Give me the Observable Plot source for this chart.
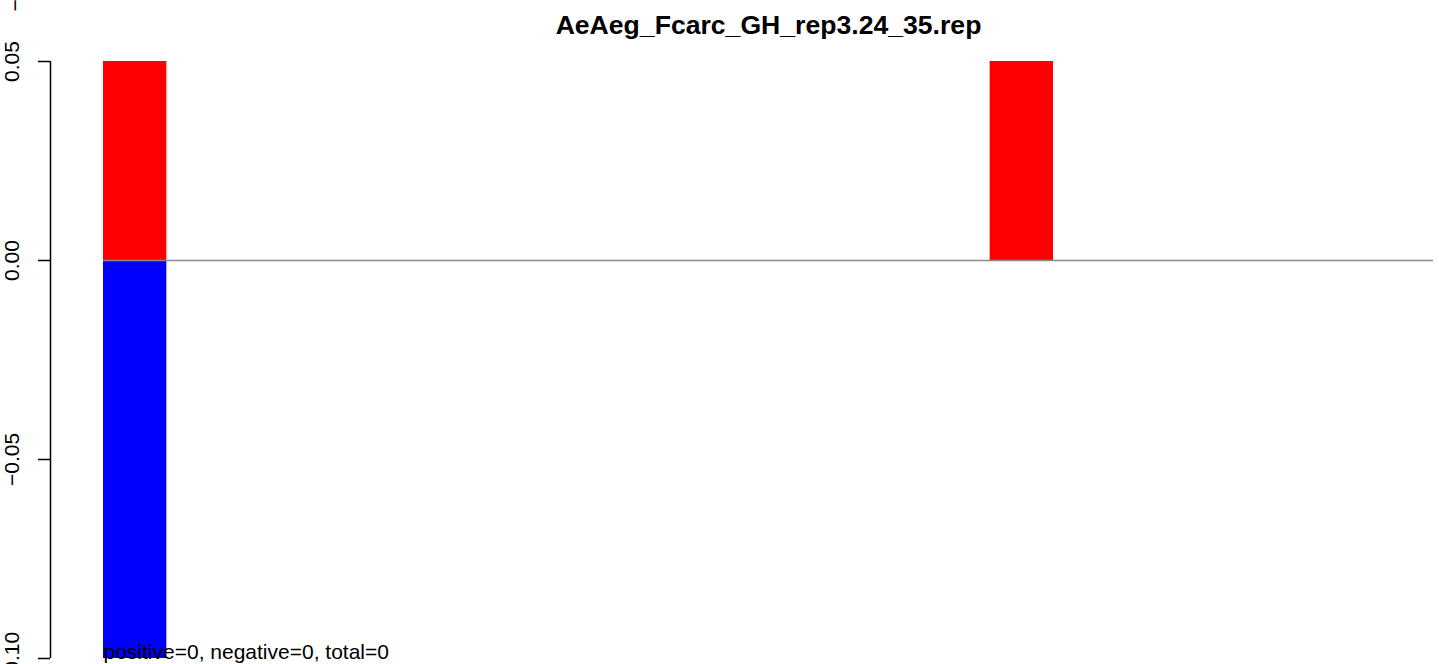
<!DOCTYPE html>
<html>
<head>
<meta charset="utf-8">
<script src="https://cdn.jsdelivr.net/npm/d3@7"></script>
<script src="https://cdn.jsdelivr.net/npm/@observablehq/plot@0.6"></script>
<style>
  html, body { margin: 0; padding: 0; background: #fff; }
  #chart svg { display: block; font-family: "Liberation Sans", Arial, sans-serif; }
</style>
</head>
<body>
<div id="chart"></div>
<script>
const title = "AeAeg_Fcarc_GH_rep3.24_35.rep";
const caption = "positive=0, negative=0, total=0";
const nBins = 21;
const posBin = [0, 14];
const posValue = [0.05, 0.05];
const negBin = [0];
const negValue = [-0.10];
const yTicks = [-0.10, -0.05, 0.00, 0.05];
const yDomain = [-0.10, 0.05];

const pos = posBin.map((b, i) => ({b, v: posValue[i]}));
const neg = negBin.map((b, i) => ({b, v: negValue[i]}));

const chart = Plot.plot({
  width: 1439,
  height: 664,
  marginLeft: 103,
  marginRight: 6,
  marginTop: 61,
  marginBottom: 6,
  style: {fontFamily: "Liberation Sans, Arial, sans-serif", fontSize: "21px", background: "#fff", overflow: "visible"},
  x: {domain: [0, nBins], axis: null},
  y: {domain: yDomain, axis: null},
  marks: [
    Plot.rect(pos, {x1: "b", x2: d => d.b + 1, y1: 0, y2: "v", fill: "#ff0000"}),
    Plot.rect(neg, {x1: "b", x2: d => d.b + 1, y1: 0, y2: "v", fill: "#0000ff"}),
    Plot.ruleY([0], {x1: 0, x2: nBins, stroke: "#8c8c8c", strokeWidth: 1.5}),
    Plot.ruleX([0], {y1: yDomain[0], y2: yDomain[1], stroke: "#000", strokeWidth: 1.5, dx: -53}),
    Plot.axisY(yTicks, {anchor: "left", tickSize: 12, tickPadding: 20, tickRotate: -90, strokeWidth: 1.5,
      tickFormat: d => d3.format(".2f")(d).replace("-", "\u2212"), dx: -53, fontSize: 21, fill: "#000", stroke: "#000", label: null}),
    Plot.text([title], {frameAnchor: "top", dy: -28, lineAnchor: "bottom", fontWeight: "bold", fontSize: 26.6, fill: "#000"}),
    Plot.text([caption], {x: 0, y: yDomain[0], textAnchor: "start", lineAnchor: "bottom", dy: 0, fontSize: 21, fill: "#000"}),
    Plot.text(["\u2212"], {frameAnchor: "top-left", rotate: -90, dx: -96, dy: -50, fontSize: 21, fill: "#000"})
  ]
});
document.getElementById("chart").appendChild(chart);
</script>
</body>
</html>
